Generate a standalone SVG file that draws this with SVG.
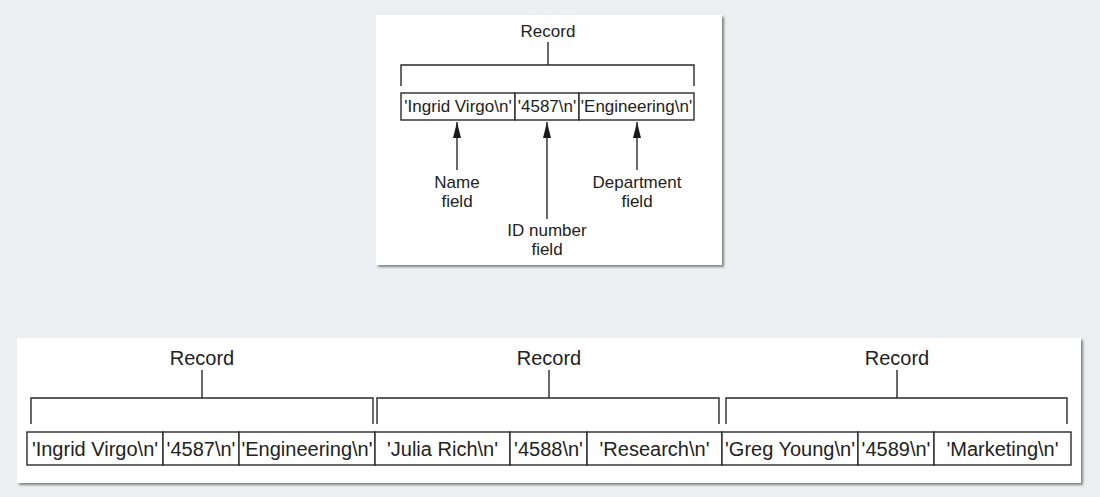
<svg xmlns="http://www.w3.org/2000/svg" width="1100" height="497" viewBox="0 0 1100 497">
<style>
.panel{fill:#ffffff;filter:url(#sh)}
.ln{fill:none;stroke:#2a2a2a;stroke-width:1.4}
.cell{fill:#ffffff;stroke:#2a2a2a;stroke-width:1.4}
.t{font-family:"Liberation Sans",Arial,sans-serif;fill:#222;text-anchor:middle}
.s{font-size:17px}
.b{font-size:20px}
</style>
<defs>
<filter id="sh" x="-5%" y="-5%" width="110%" height="115%">
<feDropShadow dx="2" dy="2" stdDeviation="1" flood-color="#555" flood-opacity="0.7"/>
</filter>
<marker id="ah" viewBox="0 0 16 8" refX="16" refY="4" markerWidth="16" markerHeight="8" markerUnits="userSpaceOnUse" orient="auto">
<path d="M0,0 L16,4 L0,8 Z" fill="#1a1a1a"/>
</marker>
</defs>
<rect width="1100" height="497" fill="#eceef1"/>
<g id="top-panel">
<rect class="panel" x="376" y="15" width="346" height="250"/>
<g id="top-record">
<text class="t s" x="548" y="37">Record</text>
<path class="ln" d="M548,42 V65 M401,86 V65 H694 V86"/>
</g>
<g id="top-name-cell"><rect class="cell" x="401" y="93" width="114" height="27"/><text class="t s" x="458" y="112">'Ingrid Virgo\n'</text></g>
<g id="top-id-cell"><rect class="cell" x="515" y="93" width="64" height="27"/><text class="t s" x="547" y="112">'4587\n'</text></g>
<g id="top-dept-cell"><rect class="cell" x="579" y="93" width="115" height="27"/><text class="t s" x="636.5" y="112">'Engineering\n'</text></g>
<g id="label-name"><text class="t s" x="457" y="188">Name</text><text class="t s" x="457" y="207">field</text></g>
<g id="label-id"><text class="t s" x="547" y="236">ID number</text><text class="t s" x="547" y="255">field</text></g>
<g id="label-dept"><text class="t s" x="637" y="188">Department</text><text class="t s" x="637" y="207">field</text></g>
<g id="connectors">
<line class="ln" x1="457" y1="170" x2="457" y2="122" marker-end="url(#ah)"/>
<line class="ln" x1="547" y1="219" x2="547" y2="122" marker-end="url(#ah)"/>
<line class="ln" x1="637" y1="170" x2="637" y2="122" marker-end="url(#ah)"/>
</g>
</g>
<g id="bottom-panel">
<rect class="panel" x="17" y="338" width="1064" height="145"/>
<g id="rec1">
<text class="t b" x="202" y="365">Record</text>
<path class="ln" d="M202,370 V398 M31,424 V398 H373 V424"/>
<rect class="cell" x="27" y="432" width="136" height="33"/><text class="t b" x="95" y="456">'Ingrid Virgo\n'</text>
<rect class="cell" x="163" y="432" width="76" height="33"/><text class="t b" x="201" y="456">'4587\n'</text>
<rect class="cell" x="239" y="432" width="136" height="33"/><text class="t b" x="307" y="456">'Engineering\n'</text>
</g>
<g id="rec2">
<text class="t b" x="549" y="365">Record</text>
<path class="ln" d="M549,370 V398 M377,424 V398 H719 V424"/>
<rect class="cell" x="375" y="432" width="135" height="33"/><text class="t b" x="442.5" y="456">'Julia Rich\n'</text>
<rect class="cell" x="510" y="432" width="77" height="33"/><text class="t b" x="548.5" y="456">'4588\n'</text>
<rect class="cell" x="587" y="432" width="135" height="33"/><text class="t b" x="654.5" y="456">'Research\n'</text>
</g>
<g id="rec3">
<text class="t b" x="897" y="365">Record</text>
<path class="ln" d="M897,370 V398 M726,424 V398 H1067 V424"/>
<rect class="cell" x="722" y="432" width="136" height="33"/><text class="t b" x="790" y="456">'Greg Young\n'</text>
<rect class="cell" x="858" y="432" width="76" height="33"/><text class="t b" x="896" y="456">'4589\n'</text>
<rect class="cell" x="934" y="432" width="137" height="33"/><text class="t b" x="1002.5" y="456">'Marketing\n'</text>
</g>
</g>
</svg>
